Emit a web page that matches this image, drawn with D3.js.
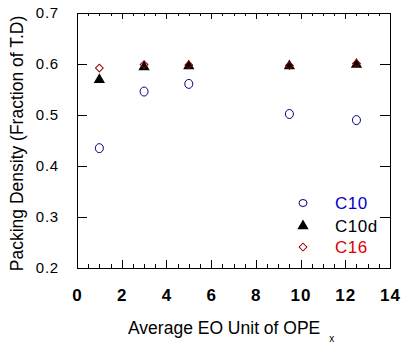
<!DOCTYPE html>
<html><head><meta charset="utf-8">
<script src="https://cdn.jsdelivr.net/npm/d3@7"></script>
<style>body{margin:0;background:#fff}svg{display:block}text{font-family:Arial,"Liberation Sans",sans-serif}</style>
</head><body><svg id="c" width="402" height="345"></svg>
<script>
const xVals = [1, 3, 5, 9.5, 12.5];
const c10  = [0.435, 0.546, 0.561, 0.502, 0.490];
const c10d = [0.569, 0.594, 0.596, 0.596, 0.599];
const c16  = [0.592, 0.599, 0.598, 0.597, 0.601];
const xTicks = [0, 2, 4, 6, 8, 10, 12, 14];
const yTicks = [0.2, 0.3, 0.4, 0.5, 0.6, 0.7];
const seriesNames = ["C10", "C10d", "C16"];

const svg = d3.select("#c");
const L = 77, R = 390, T = 13, B = 268;
const x = d3.scaleLinear().domain([0, 14]).range([L, R]);
const y = d3.scaleLinear().domain([0.2, 0.7]).range([B, T]);

svg.append("rect").attr("x", L).attr("y", T).attr("width", R - L).attr("height", B - T)
  .attr("fill", "none").attr("stroke", "#000").attr("stroke-width", 1).attr("shape-rendering", "crispEdges");

const minorX = d3.range(0, 14.01, 0.5).filter(v => Math.abs(v % 2) > 1e-6);

const gb = svg.append("g").attr("transform", `translate(0,${B})`)
  .call(d3.axisBottom(x).tickValues(xTicks).tickSize(-8).tickFormat(d3.format("d")).tickPadding(21));
gb.select(".domain").remove();
gb.selectAll("text").attr("font-size", 17).attr("font-weight", "bold").attr("fill", "#000")
  .attr("font-family", "Arial").attr("letter-spacing", 1);
const gbm = svg.append("g").attr("transform", `translate(0,${B})`)
  .call(d3.axisBottom(x).tickValues(minorX).tickSize(-4).tickFormat(""));
gbm.select(".domain").remove();

const gt = svg.append("g").attr("transform", `translate(0,${T})`)
  .call(d3.axisTop(x).tickValues(xTicks).tickSize(-6).tickFormat(""));
gt.select(".domain").remove();
const gtm = svg.append("g").attr("transform", `translate(0,${T})`)
  .call(d3.axisTop(x).tickValues(minorX).tickSize(-3).tickFormat(""));
gtm.select(".domain").remove();

const gl = svg.append("g").attr("transform", `translate(${L},0)`)
  .call(d3.axisLeft(y).tickValues(yTicks).tickSize(-10).tickFormat(d3.format(".1f")).tickPadding(18));
gl.select(".domain").remove();
gl.selectAll("text").attr("font-size", 15).attr("fill", "#000").attr("font-family", "Arial")
  .attr("letter-spacing", 0.8);

const gr = svg.append("g").attr("transform", `translate(${R},0)`)
  .call(d3.axisRight(y).tickValues(yTicks).tickSize(-10).tickFormat(""));
gr.select(".domain").remove();

svg.selectAll(".tick line").attr("stroke", "#000").attr("shape-rendering", "crispEdges");

svg.append("text").attr("transform", `translate(23,143.5) rotate(-90)`)
  .attr("text-anchor", "middle").attr("font-size", 17.5).attr("fill", "#000")
  .text("Packing Density (Fraction of T.D)");
const xt = svg.append("text").attr("x", 128).attr("y", 334).attr("font-size", 17.5).attr("fill", "#000");
xt.append("tspan").text("Average EO Unit of OPE");
xt.append("tspan").attr("font-size", 10).attr("dx", 9).attr("dy", 8).text("x");

const pts = arr => arr.map((v, i) => ({ x: xVals[i], y: v }));

svg.append("g").selectAll("ellipse").data(pts(c10)).join("ellipse")
  .attr("cx", d => x(d.x)).attr("cy", d => y(d.y)).attr("rx", 4).attr("ry", 4.5)
  .attr("fill", "none").attr("stroke", "#00007f").attr("stroke-width", 1);

const tri = d3.symbol().type(d3.symbolTriangle).size(55);
const dia = d3.symbol().type(d3.symbolSquare).size(30);

svg.append("g").selectAll("path").data(pts(c10d)).join("path")
  .attr("d", tri).attr("transform", d => `translate(${x(d.x)},${y(d.y)})`)
  .attr("fill", "#000");

svg.append("g").selectAll("path").data(pts(c16)).join("path")
  .attr("d", dia).attr("transform", d => `translate(${x(d.x)},${y(d.y)}) rotate(45)`)
  .attr("fill", "none").attr("stroke", "#990000").attr("stroke-width", 1);

const legY = [203, 226, 247];
const legColors = ["#0000cc", "#000", "#dd0000"];
const lg = svg.append("g");
lg.append("ellipse").attr("cx", 303).attr("cy", legY[0]).attr("rx", 4).attr("ry", 3.5)
  .attr("fill", "none").attr("stroke", "#00007f");
lg.append("path").attr("d", tri).attr("transform", `translate(303,${legY[1]})`).attr("fill", "#000");
lg.append("path").attr("d", dia).attr("transform", `translate(303,${legY[2]}) rotate(45)`)
  .attr("fill", "none").attr("stroke", "#990000");
seriesNames.forEach((s, i) => {
  lg.append("text").attr("x", 335).attr("y", legY[i] + 6).attr("font-size", 17)
    .attr("fill", legColors[i]).attr("letter-spacing", 0.5).text(s);
});
</script></body></html>
